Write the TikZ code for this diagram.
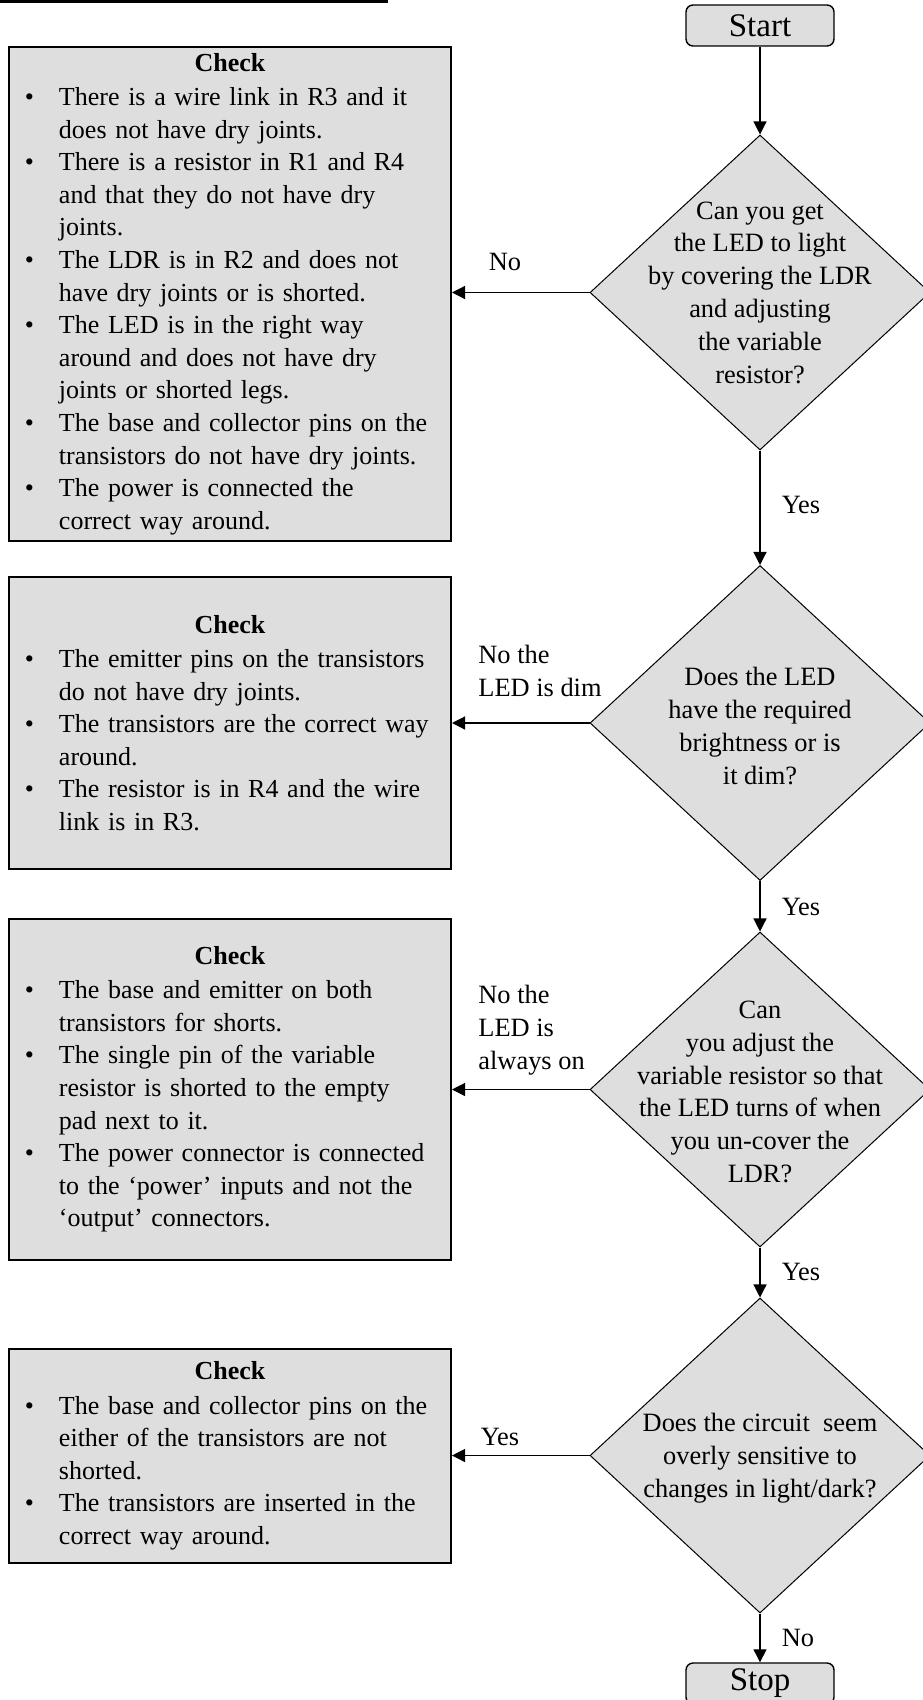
\documentclass[tikz,border=0pt]{standalone}
\usepackage{fontspec}
\setmainfont{Liberation Serif}
\usetikzlibrary{arrows.meta,shapes.geometric}
\definecolor{boxgray}{RGB}{222,222,222}
\newcommand\ckhead{{\centering\textbf{Check}\par}\vspace{0.8pt}}
\newcommand\bulline[1]{\par\noindent\makebox[17pt][l]{\textbullet}\mbox{#1}}
\newcommand\contline[1]{\par\noindent\hspace*{17pt}\mbox{#1}}
\begin{document}
\begin{tikzpicture}[x=0.5pt,y=-0.5pt,
  every node/.style={font=\fontsize{13}{16.3}\selectfont},
  chk/.style={draw, line width=1pt, fill=boxgray, rectangle, minimum width=221pt,
    text width=205pt, inner xsep=8pt, inner ysep=0pt},
  dia/.style={diamond, draw, line width=0.5pt, fill=boxgray, minimum width=170pt,
    minimum height=157.5pt, inner sep=0pt},
  dtxt/.style={align=center, inner sep=0pt, font=\fontsize{13.2}{16.4}\selectfont},
  term/.style={draw, line width=0.7pt, fill=boxgray, rounded corners=3.5pt,
    minimum width=74pt, minimum height=20.5pt, inner sep=0pt,
    font=\fontsize{16.5}{19}\selectfont},
  arr/.style={line width=0.6pt, -{Triangle[length=6.5pt,width=6.5pt]}},
  lbl/.style={inner sep=0pt, align=left, font=\fontsize{13.2}{16.5}\selectfont}
]
\useasboundingbox (0,0) rectangle (922,1700);

% underline of heading cut off at the top
\draw[line width=1.3pt] (0,1.3) -- (388,1.3);

% terminals
\node[term] (start) at (760,25.5) {Start};
\node[term] (stop) at (760,1683.5) {Stop};

% decisions
\node[dia] (d1) at (760,292.5) {};
\node[dtxt] (d1t) at (d1) {Can you get\\the LED to light\\by covering the LDR\\and adjusting\\the variable\\resistor?};
\node[dia] (d2) at (760,723) {};
\node[dtxt] (d2t) at (760,726) {Does the LED\\have the required\\brightness or is\\it dim?};
\node[dia] (d3) at (760,1089.5) {};
\node[dtxt] (d3t) at (760,1092) {Can\\you adjust the\\variable resistor so that\\the LED turns of when\\you un-cover the\\LDR?};
\node[dia] (d4) at (760,1455.5) {};
\node[dtxt] (d4t) at (760,1458) {Does the circuit\ \ seem\\overly sensitive to\\changes in light/dark?};

% check boxes
\node[chk, minimum height=247pt] (b1) at (230,294) {\ckhead
\bulline{There is a wire link in R3 and it}
\contline{does not have dry joints.}
\bulline{There is a resistor in R1 and R4}
\contline{and that they do not have dry}
\contline{joints.}
\bulline{The LDR is in R2 and does not}
\contline{have dry joints or is shorted.}
\bulline{The LED is in the right way}
\contline{around and does not have dry}
\contline{joints or shorted legs.}
\bulline{The base and collector pins on the}
\contline{transistors do not have dry joints.}
\bulline{The power is connected the}
\contline{correct way around.}};

\node[chk, minimum height=146pt] (b2) at (230,723) {\ckhead
\bulline{The emitter pins on the transistors}
\contline{do not have dry joints.}
\bulline{The transistors are the correct way}
\contline{around.}
\bulline{The resistor is in R4 and the wire}
\contline{link is in R3.}};

\node[chk, minimum height=170.5pt] (b3) at (230,1089.5) {\ckhead
\bulline{The base and emitter on both}
\contline{transistors for shorts.}
\bulline{The single pin of the variable}
\contline{resistor is shorted to the empty}
\contline{pad next to it.}
\bulline{The power connector is connected}
\contline{to the ‘power’ inputs and not the}
\contline{‘output’ connectors.}};

\node[chk, minimum height=107pt] (b4) at (230,1456) {\ckhead
\bulline{The base and collector pins on the}
\contline{either of the transistors are not}
\contline{shorted.}
\bulline{The transistors are inserted in the}
\contline{correct way around.}};

% vertical flow
\draw[arr] (start) -- (d1);
\draw[arr] (d1) -- (d2);
\draw[arr] (d2) -- (d3);
\draw[arr] (d3) -- (d4);
\draw[arr] (d4) -- (stop);

% horizontal flow
\draw[arr] (d1.west) -- (b1.east |- d1.west);
\draw[arr] (d2.west) -- (b2.east |- d2.west);
\draw[arr] (d3.west) -- (b3.east |- d3.west);
\draw[arr] (d4.west) -- (b4.east |- d4.west);

% labels
\node[lbl] (l1) at (505,262) {No};
\node[lbl, anchor=west] (l2) at (478,671) {No the\\LED is dim};
\node[lbl, anchor=west] (l3) at (478,1030) {No the\\LED is\\always on};
\node[lbl] (l4) at (500,1437) {Yes};
\node[lbl] (y1) at (801,505) {Yes};
\node[lbl] (y2) at (801,907) {Yes};
\node[lbl] (y3) at (801,1272) {Yes};
\node[lbl] (n4) at (798,1638) {No};
\end{tikzpicture}
\end{document}
